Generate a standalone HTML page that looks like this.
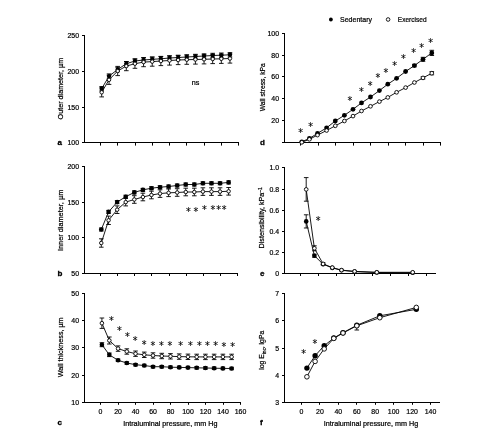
<!DOCTYPE html>
<html><head><meta charset="utf-8"><title>Figure</title>
<style>
html,body{margin:0;padding:0;background:#fff;}
body{width:497px;height:443px;overflow:hidden;}
svg{display:block;font-family:"Liberation Sans", sans-serif;fill:#111;}
svg text{fill:#000;stroke:#000;stroke-width:0.22px;}
svg text.b{stroke-width:0.3px;}
svg text.st{font-family:"DejaVu Sans", sans-serif;stroke-width:0.1px;}
</style></head><body>
<svg width="497" height="443" viewBox="0 0 497 443" font-family='"Liberation Sans", sans-serif'>
<rect width="497" height="443" fill="#fff"/>
<line x1="84.50" y1="35.00" x2="84.50" y2="143.00" stroke="#000" stroke-width="1"/>
<line x1="84.00" y1="142.50" x2="239.00" y2="142.50" stroke="#000" stroke-width="1"/>
<line x1="82.00" y1="35.50" x2="84.50" y2="35.50" stroke="#000" stroke-width="1"/>
<text transform="translate(79.10 38.00) scale(0.88 1)" text-anchor="end" font-size="7.9">250</text>
<line x1="82.00" y1="71.50" x2="84.50" y2="71.50" stroke="#000" stroke-width="1"/>
<text transform="translate(79.10 74.00) scale(0.88 1)" text-anchor="end" font-size="7.9">200</text>
<line x1="82.00" y1="107.50" x2="84.50" y2="107.50" stroke="#000" stroke-width="1"/>
<text transform="translate(79.10 110.00) scale(0.88 1)" text-anchor="end" font-size="7.9">150</text>
<line x1="82.00" y1="142.50" x2="84.50" y2="142.50" stroke="#000" stroke-width="1"/>
<text transform="translate(79.10 145.00) scale(0.88 1)" text-anchor="end" font-size="7.9">100</text>
<line x1="100.50" y1="142.50" x2="100.50" y2="145.60" stroke="#000" stroke-width="1"/>
<line x1="117.50" y1="142.50" x2="117.50" y2="145.60" stroke="#000" stroke-width="1"/>
<line x1="135.50" y1="142.50" x2="135.50" y2="145.60" stroke="#000" stroke-width="1"/>
<line x1="152.50" y1="142.50" x2="152.50" y2="145.60" stroke="#000" stroke-width="1"/>
<line x1="169.50" y1="142.50" x2="169.50" y2="145.60" stroke="#000" stroke-width="1"/>
<line x1="186.50" y1="142.50" x2="186.50" y2="145.60" stroke="#000" stroke-width="1"/>
<line x1="204.50" y1="142.50" x2="204.50" y2="145.60" stroke="#000" stroke-width="1"/>
<line x1="221.50" y1="142.50" x2="221.50" y2="145.60" stroke="#000" stroke-width="1"/>
<line x1="238.50" y1="142.50" x2="238.50" y2="145.60" stroke="#000" stroke-width="1"/>
<text transform="translate(63.00 88.60) rotate(-90)" text-anchor="middle" font-size="7.2">Outer diameter, µm</text>
<text transform="translate(57.60 144.80)" text-anchor="start" font-size="8.0" font-weight="bold" class="b">a</text>
<polyline points="101.70,88.70 109.04,76.10 117.68,69.50 126.31,63.70 134.95,61.00 143.59,60.00 152.22,59.30 160.86,58.80 169.50,58.00 178.14,57.50 186.77,57.00 195.41,56.50 204.05,56.00 212.69,55.50 221.32,55.20 229.96,54.80" fill="none" stroke="#000" stroke-width="0.9"/>
<line x1="101.70" y1="86.50" x2="101.70" y2="90.90" stroke="#000" stroke-width="0.9"/>
<line x1="99.40" y1="86.50" x2="104.00" y2="86.50" stroke="#000" stroke-width="0.9"/>
<line x1="99.40" y1="90.90" x2="104.00" y2="90.90" stroke="#000" stroke-width="0.9"/>
<line x1="109.04" y1="73.90" x2="109.04" y2="78.30" stroke="#000" stroke-width="0.9"/>
<line x1="106.74" y1="73.90" x2="111.34" y2="73.90" stroke="#000" stroke-width="0.9"/>
<line x1="106.74" y1="78.30" x2="111.34" y2="78.30" stroke="#000" stroke-width="0.9"/>
<line x1="117.68" y1="67.30" x2="117.68" y2="71.70" stroke="#000" stroke-width="0.9"/>
<line x1="115.38" y1="67.30" x2="119.98" y2="67.30" stroke="#000" stroke-width="0.9"/>
<line x1="115.38" y1="71.70" x2="119.98" y2="71.70" stroke="#000" stroke-width="0.9"/>
<line x1="126.31" y1="61.50" x2="126.31" y2="65.90" stroke="#000" stroke-width="0.9"/>
<line x1="124.01" y1="61.50" x2="128.61" y2="61.50" stroke="#000" stroke-width="0.9"/>
<line x1="124.01" y1="65.90" x2="128.61" y2="65.90" stroke="#000" stroke-width="0.9"/>
<line x1="134.95" y1="58.80" x2="134.95" y2="63.20" stroke="#000" stroke-width="0.9"/>
<line x1="132.65" y1="58.80" x2="137.25" y2="58.80" stroke="#000" stroke-width="0.9"/>
<line x1="132.65" y1="63.20" x2="137.25" y2="63.20" stroke="#000" stroke-width="0.9"/>
<line x1="143.59" y1="57.80" x2="143.59" y2="62.20" stroke="#000" stroke-width="0.9"/>
<line x1="141.29" y1="57.80" x2="145.89" y2="57.80" stroke="#000" stroke-width="0.9"/>
<line x1="141.29" y1="62.20" x2="145.89" y2="62.20" stroke="#000" stroke-width="0.9"/>
<line x1="152.22" y1="57.10" x2="152.22" y2="61.50" stroke="#000" stroke-width="0.9"/>
<line x1="149.92" y1="57.10" x2="154.53" y2="57.10" stroke="#000" stroke-width="0.9"/>
<line x1="149.92" y1="61.50" x2="154.53" y2="61.50" stroke="#000" stroke-width="0.9"/>
<line x1="160.86" y1="56.60" x2="160.86" y2="61.00" stroke="#000" stroke-width="0.9"/>
<line x1="158.56" y1="56.60" x2="163.16" y2="56.60" stroke="#000" stroke-width="0.9"/>
<line x1="158.56" y1="61.00" x2="163.16" y2="61.00" stroke="#000" stroke-width="0.9"/>
<line x1="169.50" y1="55.80" x2="169.50" y2="60.20" stroke="#000" stroke-width="0.9"/>
<line x1="167.20" y1="55.80" x2="171.80" y2="55.80" stroke="#000" stroke-width="0.9"/>
<line x1="167.20" y1="60.20" x2="171.80" y2="60.20" stroke="#000" stroke-width="0.9"/>
<line x1="178.14" y1="55.30" x2="178.14" y2="59.70" stroke="#000" stroke-width="0.9"/>
<line x1="175.84" y1="55.30" x2="180.44" y2="55.30" stroke="#000" stroke-width="0.9"/>
<line x1="175.84" y1="59.70" x2="180.44" y2="59.70" stroke="#000" stroke-width="0.9"/>
<line x1="186.77" y1="54.80" x2="186.77" y2="59.20" stroke="#000" stroke-width="0.9"/>
<line x1="184.47" y1="54.80" x2="189.07" y2="54.80" stroke="#000" stroke-width="0.9"/>
<line x1="184.47" y1="59.20" x2="189.07" y2="59.20" stroke="#000" stroke-width="0.9"/>
<line x1="195.41" y1="54.30" x2="195.41" y2="58.70" stroke="#000" stroke-width="0.9"/>
<line x1="193.11" y1="54.30" x2="197.71" y2="54.30" stroke="#000" stroke-width="0.9"/>
<line x1="193.11" y1="58.70" x2="197.71" y2="58.70" stroke="#000" stroke-width="0.9"/>
<line x1="204.05" y1="53.80" x2="204.05" y2="58.20" stroke="#000" stroke-width="0.9"/>
<line x1="201.75" y1="53.80" x2="206.35" y2="53.80" stroke="#000" stroke-width="0.9"/>
<line x1="201.75" y1="58.20" x2="206.35" y2="58.20" stroke="#000" stroke-width="0.9"/>
<line x1="212.69" y1="53.30" x2="212.69" y2="57.70" stroke="#000" stroke-width="0.9"/>
<line x1="210.39" y1="53.30" x2="214.99" y2="53.30" stroke="#000" stroke-width="0.9"/>
<line x1="210.39" y1="57.70" x2="214.99" y2="57.70" stroke="#000" stroke-width="0.9"/>
<line x1="221.32" y1="53.00" x2="221.32" y2="57.40" stroke="#000" stroke-width="0.9"/>
<line x1="219.02" y1="53.00" x2="223.62" y2="53.00" stroke="#000" stroke-width="0.9"/>
<line x1="219.02" y1="57.40" x2="223.62" y2="57.40" stroke="#000" stroke-width="0.9"/>
<line x1="229.96" y1="52.60" x2="229.96" y2="57.00" stroke="#000" stroke-width="0.9"/>
<line x1="227.66" y1="52.60" x2="232.26" y2="52.60" stroke="#000" stroke-width="0.9"/>
<line x1="227.66" y1="57.00" x2="232.26" y2="57.00" stroke="#000" stroke-width="0.9"/>
<circle cx="101.70" cy="88.70" r="2.20" fill="#000"/>
<circle cx="109.04" cy="76.10" r="2.20" fill="#000"/>
<circle cx="117.68" cy="69.50" r="2.20" fill="#000"/>
<circle cx="126.31" cy="63.70" r="2.20" fill="#000"/>
<circle cx="134.95" cy="61.00" r="2.20" fill="#000"/>
<circle cx="143.59" cy="60.00" r="2.20" fill="#000"/>
<circle cx="152.22" cy="59.30" r="2.20" fill="#000"/>
<circle cx="160.86" cy="58.80" r="2.20" fill="#000"/>
<circle cx="169.50" cy="58.00" r="2.20" fill="#000"/>
<circle cx="178.14" cy="57.50" r="2.20" fill="#000"/>
<circle cx="186.77" cy="57.00" r="2.20" fill="#000"/>
<circle cx="195.41" cy="56.50" r="2.20" fill="#000"/>
<circle cx="204.05" cy="56.00" r="2.20" fill="#000"/>
<circle cx="212.69" cy="55.50" r="2.20" fill="#000"/>
<circle cx="221.32" cy="55.20" r="2.20" fill="#000"/>
<circle cx="229.96" cy="54.80" r="2.20" fill="#000"/>
<polyline points="101.70,92.30 109.04,79.80 117.68,71.00 126.31,66.10 134.95,63.70 143.59,62.10 152.22,61.60 160.86,61.00 169.50,60.50 178.14,60.00 186.77,59.70 195.41,59.50 204.05,59.30 212.69,59.00 221.32,58.80 229.96,58.50" fill="none" stroke="#000" stroke-width="0.9"/>
<line x1="101.70" y1="87.70" x2="101.70" y2="96.90" stroke="#000" stroke-width="0.9"/>
<line x1="99.40" y1="87.70" x2="104.00" y2="87.70" stroke="#000" stroke-width="0.9"/>
<line x1="99.40" y1="96.90" x2="104.00" y2="96.90" stroke="#000" stroke-width="0.9"/>
<line x1="109.04" y1="75.20" x2="109.04" y2="84.40" stroke="#000" stroke-width="0.9"/>
<line x1="106.74" y1="75.20" x2="111.34" y2="75.20" stroke="#000" stroke-width="0.9"/>
<line x1="106.74" y1="84.40" x2="111.34" y2="84.40" stroke="#000" stroke-width="0.9"/>
<line x1="117.68" y1="66.40" x2="117.68" y2="75.60" stroke="#000" stroke-width="0.9"/>
<line x1="115.38" y1="66.40" x2="119.98" y2="66.40" stroke="#000" stroke-width="0.9"/>
<line x1="115.38" y1="75.60" x2="119.98" y2="75.60" stroke="#000" stroke-width="0.9"/>
<line x1="126.31" y1="61.50" x2="126.31" y2="70.70" stroke="#000" stroke-width="0.9"/>
<line x1="124.01" y1="61.50" x2="128.61" y2="61.50" stroke="#000" stroke-width="0.9"/>
<line x1="124.01" y1="70.70" x2="128.61" y2="70.70" stroke="#000" stroke-width="0.9"/>
<line x1="134.95" y1="59.10" x2="134.95" y2="68.30" stroke="#000" stroke-width="0.9"/>
<line x1="132.65" y1="59.10" x2="137.25" y2="59.10" stroke="#000" stroke-width="0.9"/>
<line x1="132.65" y1="68.30" x2="137.25" y2="68.30" stroke="#000" stroke-width="0.9"/>
<line x1="143.59" y1="57.50" x2="143.59" y2="66.70" stroke="#000" stroke-width="0.9"/>
<line x1="141.29" y1="57.50" x2="145.89" y2="57.50" stroke="#000" stroke-width="0.9"/>
<line x1="141.29" y1="66.70" x2="145.89" y2="66.70" stroke="#000" stroke-width="0.9"/>
<line x1="152.22" y1="57.00" x2="152.22" y2="66.20" stroke="#000" stroke-width="0.9"/>
<line x1="149.92" y1="57.00" x2="154.53" y2="57.00" stroke="#000" stroke-width="0.9"/>
<line x1="149.92" y1="66.20" x2="154.53" y2="66.20" stroke="#000" stroke-width="0.9"/>
<line x1="160.86" y1="56.40" x2="160.86" y2="65.60" stroke="#000" stroke-width="0.9"/>
<line x1="158.56" y1="56.40" x2="163.16" y2="56.40" stroke="#000" stroke-width="0.9"/>
<line x1="158.56" y1="65.60" x2="163.16" y2="65.60" stroke="#000" stroke-width="0.9"/>
<line x1="169.50" y1="55.90" x2="169.50" y2="65.10" stroke="#000" stroke-width="0.9"/>
<line x1="167.20" y1="55.90" x2="171.80" y2="55.90" stroke="#000" stroke-width="0.9"/>
<line x1="167.20" y1="65.10" x2="171.80" y2="65.10" stroke="#000" stroke-width="0.9"/>
<line x1="178.14" y1="55.40" x2="178.14" y2="64.60" stroke="#000" stroke-width="0.9"/>
<line x1="175.84" y1="55.40" x2="180.44" y2="55.40" stroke="#000" stroke-width="0.9"/>
<line x1="175.84" y1="64.60" x2="180.44" y2="64.60" stroke="#000" stroke-width="0.9"/>
<line x1="186.77" y1="55.10" x2="186.77" y2="64.30" stroke="#000" stroke-width="0.9"/>
<line x1="184.47" y1="55.10" x2="189.07" y2="55.10" stroke="#000" stroke-width="0.9"/>
<line x1="184.47" y1="64.30" x2="189.07" y2="64.30" stroke="#000" stroke-width="0.9"/>
<line x1="195.41" y1="54.90" x2="195.41" y2="64.10" stroke="#000" stroke-width="0.9"/>
<line x1="193.11" y1="54.90" x2="197.71" y2="54.90" stroke="#000" stroke-width="0.9"/>
<line x1="193.11" y1="64.10" x2="197.71" y2="64.10" stroke="#000" stroke-width="0.9"/>
<line x1="204.05" y1="54.70" x2="204.05" y2="63.90" stroke="#000" stroke-width="0.9"/>
<line x1="201.75" y1="54.70" x2="206.35" y2="54.70" stroke="#000" stroke-width="0.9"/>
<line x1="201.75" y1="63.90" x2="206.35" y2="63.90" stroke="#000" stroke-width="0.9"/>
<line x1="212.69" y1="54.40" x2="212.69" y2="63.60" stroke="#000" stroke-width="0.9"/>
<line x1="210.39" y1="54.40" x2="214.99" y2="54.40" stroke="#000" stroke-width="0.9"/>
<line x1="210.39" y1="63.60" x2="214.99" y2="63.60" stroke="#000" stroke-width="0.9"/>
<line x1="221.32" y1="54.20" x2="221.32" y2="63.40" stroke="#000" stroke-width="0.9"/>
<line x1="219.02" y1="54.20" x2="223.62" y2="54.20" stroke="#000" stroke-width="0.9"/>
<line x1="219.02" y1="63.40" x2="223.62" y2="63.40" stroke="#000" stroke-width="0.9"/>
<line x1="229.96" y1="53.90" x2="229.96" y2="63.10" stroke="#000" stroke-width="0.9"/>
<line x1="227.66" y1="53.90" x2="232.26" y2="53.90" stroke="#000" stroke-width="0.9"/>
<line x1="227.66" y1="63.10" x2="232.26" y2="63.10" stroke="#000" stroke-width="0.9"/>
<circle cx="101.70" cy="92.30" r="1.75" fill="#fff" stroke="#000" stroke-width="0.9"/>
<circle cx="109.04" cy="79.80" r="1.75" fill="#fff" stroke="#000" stroke-width="0.9"/>
<circle cx="117.68" cy="71.00" r="1.75" fill="#fff" stroke="#000" stroke-width="0.9"/>
<circle cx="126.31" cy="66.10" r="1.75" fill="#fff" stroke="#000" stroke-width="0.9"/>
<circle cx="134.95" cy="63.70" r="1.75" fill="#fff" stroke="#000" stroke-width="0.9"/>
<circle cx="143.59" cy="62.10" r="1.75" fill="#fff" stroke="#000" stroke-width="0.9"/>
<circle cx="152.22" cy="61.60" r="1.75" fill="#fff" stroke="#000" stroke-width="0.9"/>
<circle cx="160.86" cy="61.00" r="1.75" fill="#fff" stroke="#000" stroke-width="0.9"/>
<circle cx="169.50" cy="60.50" r="1.75" fill="#fff" stroke="#000" stroke-width="0.9"/>
<circle cx="178.14" cy="60.00" r="1.75" fill="#fff" stroke="#000" stroke-width="0.9"/>
<circle cx="186.77" cy="59.70" r="1.75" fill="#fff" stroke="#000" stroke-width="0.9"/>
<circle cx="195.41" cy="59.50" r="1.75" fill="#fff" stroke="#000" stroke-width="0.9"/>
<circle cx="204.05" cy="59.30" r="1.75" fill="#fff" stroke="#000" stroke-width="0.9"/>
<circle cx="212.69" cy="59.00" r="1.75" fill="#fff" stroke="#000" stroke-width="0.9"/>
<circle cx="221.32" cy="58.80" r="1.75" fill="#fff" stroke="#000" stroke-width="0.9"/>
<circle cx="229.96" cy="58.50" r="1.75" fill="#fff" stroke="#000" stroke-width="0.9"/>
<text transform="translate(195.60 84.60)" text-anchor="middle" font-size="7.2">ns</text>
<line x1="84.50" y1="166.00" x2="84.50" y2="274.00" stroke="#000" stroke-width="1"/>
<line x1="84.00" y1="273.50" x2="238.00" y2="273.50" stroke="#000" stroke-width="1"/>
<line x1="82.00" y1="166.50" x2="84.50" y2="166.50" stroke="#000" stroke-width="1"/>
<text transform="translate(79.10 169.00) scale(0.88 1)" text-anchor="end" font-size="7.9">200</text>
<line x1="82.00" y1="202.50" x2="84.50" y2="202.50" stroke="#000" stroke-width="1"/>
<text transform="translate(79.10 205.00) scale(0.88 1)" text-anchor="end" font-size="7.9">150</text>
<line x1="82.00" y1="237.50" x2="84.50" y2="237.50" stroke="#000" stroke-width="1"/>
<text transform="translate(79.10 240.00) scale(0.88 1)" text-anchor="end" font-size="7.9">100</text>
<line x1="82.00" y1="273.50" x2="84.50" y2="273.50" stroke="#000" stroke-width="1"/>
<text transform="translate(79.10 276.00) scale(0.88 1)" text-anchor="end" font-size="7.9">50</text>
<line x1="100.50" y1="273.50" x2="100.50" y2="276.00" stroke="#000" stroke-width="1"/>
<line x1="117.50" y1="273.50" x2="117.50" y2="276.00" stroke="#000" stroke-width="1"/>
<line x1="134.50" y1="273.50" x2="134.50" y2="276.00" stroke="#000" stroke-width="1"/>
<line x1="151.50" y1="273.50" x2="151.50" y2="276.00" stroke="#000" stroke-width="1"/>
<line x1="169.50" y1="273.50" x2="169.50" y2="276.00" stroke="#000" stroke-width="1"/>
<line x1="186.50" y1="273.50" x2="186.50" y2="276.00" stroke="#000" stroke-width="1"/>
<line x1="203.50" y1="273.50" x2="203.50" y2="276.00" stroke="#000" stroke-width="1"/>
<line x1="220.50" y1="273.50" x2="220.50" y2="276.00" stroke="#000" stroke-width="1"/>
<line x1="237.50" y1="273.50" x2="237.50" y2="276.00" stroke="#000" stroke-width="1"/>
<text transform="translate(63.00 220.40) rotate(-90) scale(1.02 1)" text-anchor="middle" font-size="7.2">Inner diameter, µm</text>
<text transform="translate(57.60 275.80)" text-anchor="start" font-size="8.0" font-weight="bold" class="b">b</text>
<polyline points="101.29,229.50 108.58,211.90 117.15,202.10 125.72,196.70 134.30,192.40 142.88,189.90 151.45,188.20 160.02,187.20 168.60,186.50 177.18,185.50 185.75,184.50 194.32,184.50 202.90,183.30 211.47,183.30 220.05,183.30 228.62,182.40" fill="none" stroke="#000" stroke-width="0.9"/>
<line x1="101.29" y1="228.00" x2="101.29" y2="231.00" stroke="#000" stroke-width="0.9"/>
<line x1="98.99" y1="228.00" x2="103.59" y2="228.00" stroke="#000" stroke-width="0.9"/>
<line x1="98.99" y1="231.00" x2="103.59" y2="231.00" stroke="#000" stroke-width="0.9"/>
<line x1="108.58" y1="210.40" x2="108.58" y2="213.40" stroke="#000" stroke-width="0.9"/>
<line x1="106.28" y1="210.40" x2="110.88" y2="210.40" stroke="#000" stroke-width="0.9"/>
<line x1="106.28" y1="213.40" x2="110.88" y2="213.40" stroke="#000" stroke-width="0.9"/>
<line x1="117.15" y1="200.60" x2="117.15" y2="203.60" stroke="#000" stroke-width="0.9"/>
<line x1="114.85" y1="200.60" x2="119.45" y2="200.60" stroke="#000" stroke-width="0.9"/>
<line x1="114.85" y1="203.60" x2="119.45" y2="203.60" stroke="#000" stroke-width="0.9"/>
<line x1="125.72" y1="195.20" x2="125.72" y2="198.20" stroke="#000" stroke-width="0.9"/>
<line x1="123.42" y1="195.20" x2="128.03" y2="195.20" stroke="#000" stroke-width="0.9"/>
<line x1="123.42" y1="198.20" x2="128.03" y2="198.20" stroke="#000" stroke-width="0.9"/>
<line x1="134.30" y1="190.90" x2="134.30" y2="193.90" stroke="#000" stroke-width="0.9"/>
<line x1="132.00" y1="190.90" x2="136.60" y2="190.90" stroke="#000" stroke-width="0.9"/>
<line x1="132.00" y1="193.90" x2="136.60" y2="193.90" stroke="#000" stroke-width="0.9"/>
<line x1="142.88" y1="188.40" x2="142.88" y2="191.40" stroke="#000" stroke-width="0.9"/>
<line x1="140.57" y1="188.40" x2="145.18" y2="188.40" stroke="#000" stroke-width="0.9"/>
<line x1="140.57" y1="191.40" x2="145.18" y2="191.40" stroke="#000" stroke-width="0.9"/>
<line x1="151.45" y1="186.70" x2="151.45" y2="189.70" stroke="#000" stroke-width="0.9"/>
<line x1="149.15" y1="186.70" x2="153.75" y2="186.70" stroke="#000" stroke-width="0.9"/>
<line x1="149.15" y1="189.70" x2="153.75" y2="189.70" stroke="#000" stroke-width="0.9"/>
<line x1="160.02" y1="185.70" x2="160.02" y2="188.70" stroke="#000" stroke-width="0.9"/>
<line x1="157.72" y1="185.70" x2="162.32" y2="185.70" stroke="#000" stroke-width="0.9"/>
<line x1="157.72" y1="188.70" x2="162.32" y2="188.70" stroke="#000" stroke-width="0.9"/>
<line x1="168.60" y1="185.00" x2="168.60" y2="188.00" stroke="#000" stroke-width="0.9"/>
<line x1="166.30" y1="185.00" x2="170.90" y2="185.00" stroke="#000" stroke-width="0.9"/>
<line x1="166.30" y1="188.00" x2="170.90" y2="188.00" stroke="#000" stroke-width="0.9"/>
<line x1="177.18" y1="184.00" x2="177.18" y2="187.00" stroke="#000" stroke-width="0.9"/>
<line x1="174.88" y1="184.00" x2="179.48" y2="184.00" stroke="#000" stroke-width="0.9"/>
<line x1="174.88" y1="187.00" x2="179.48" y2="187.00" stroke="#000" stroke-width="0.9"/>
<line x1="185.75" y1="183.00" x2="185.75" y2="186.00" stroke="#000" stroke-width="0.9"/>
<line x1="183.45" y1="183.00" x2="188.05" y2="183.00" stroke="#000" stroke-width="0.9"/>
<line x1="183.45" y1="186.00" x2="188.05" y2="186.00" stroke="#000" stroke-width="0.9"/>
<line x1="194.32" y1="183.00" x2="194.32" y2="186.00" stroke="#000" stroke-width="0.9"/>
<line x1="192.02" y1="183.00" x2="196.62" y2="183.00" stroke="#000" stroke-width="0.9"/>
<line x1="192.02" y1="186.00" x2="196.62" y2="186.00" stroke="#000" stroke-width="0.9"/>
<line x1="202.90" y1="181.80" x2="202.90" y2="184.80" stroke="#000" stroke-width="0.9"/>
<line x1="200.60" y1="181.80" x2="205.20" y2="181.80" stroke="#000" stroke-width="0.9"/>
<line x1="200.60" y1="184.80" x2="205.20" y2="184.80" stroke="#000" stroke-width="0.9"/>
<line x1="211.47" y1="181.80" x2="211.47" y2="184.80" stroke="#000" stroke-width="0.9"/>
<line x1="209.17" y1="181.80" x2="213.78" y2="181.80" stroke="#000" stroke-width="0.9"/>
<line x1="209.17" y1="184.80" x2="213.78" y2="184.80" stroke="#000" stroke-width="0.9"/>
<line x1="220.05" y1="181.80" x2="220.05" y2="184.80" stroke="#000" stroke-width="0.9"/>
<line x1="217.75" y1="181.80" x2="222.35" y2="181.80" stroke="#000" stroke-width="0.9"/>
<line x1="217.75" y1="184.80" x2="222.35" y2="184.80" stroke="#000" stroke-width="0.9"/>
<line x1="228.62" y1="180.90" x2="228.62" y2="183.90" stroke="#000" stroke-width="0.9"/>
<line x1="226.32" y1="180.90" x2="230.93" y2="180.90" stroke="#000" stroke-width="0.9"/>
<line x1="226.32" y1="183.90" x2="230.93" y2="183.90" stroke="#000" stroke-width="0.9"/>
<circle cx="101.29" cy="229.50" r="2.30" fill="#000"/>
<circle cx="108.58" cy="211.90" r="2.30" fill="#000"/>
<circle cx="117.15" cy="202.10" r="2.30" fill="#000"/>
<circle cx="125.72" cy="196.70" r="2.30" fill="#000"/>
<circle cx="134.30" cy="192.40" r="2.30" fill="#000"/>
<circle cx="142.88" cy="189.90" r="2.30" fill="#000"/>
<circle cx="151.45" cy="188.20" r="2.30" fill="#000"/>
<circle cx="160.02" cy="187.20" r="2.30" fill="#000"/>
<circle cx="168.60" cy="186.50" r="2.30" fill="#000"/>
<circle cx="177.18" cy="185.50" r="2.30" fill="#000"/>
<circle cx="185.75" cy="184.50" r="2.30" fill="#000"/>
<circle cx="194.32" cy="184.50" r="2.30" fill="#000"/>
<circle cx="202.90" cy="183.30" r="2.30" fill="#000"/>
<circle cx="211.47" cy="183.30" r="2.30" fill="#000"/>
<circle cx="220.05" cy="183.30" r="2.30" fill="#000"/>
<circle cx="228.62" cy="182.40" r="2.30" fill="#000"/>
<polyline points="101.29,243.00 108.58,220.30 117.15,209.70 125.72,202.10 134.30,199.50 142.88,197.00 151.45,195.00 160.02,193.60 168.60,192.80 177.18,192.50 185.75,192.00 194.32,192.00 202.90,191.60 211.47,191.60 220.05,191.60 228.62,191.30" fill="none" stroke="#000" stroke-width="0.9"/>
<line x1="101.29" y1="238.80" x2="101.29" y2="247.20" stroke="#000" stroke-width="0.9"/>
<line x1="98.99" y1="238.80" x2="103.59" y2="238.80" stroke="#000" stroke-width="0.9"/>
<line x1="98.99" y1="247.20" x2="103.59" y2="247.20" stroke="#000" stroke-width="0.9"/>
<line x1="108.58" y1="216.10" x2="108.58" y2="224.50" stroke="#000" stroke-width="0.9"/>
<line x1="106.28" y1="216.10" x2="110.88" y2="216.10" stroke="#000" stroke-width="0.9"/>
<line x1="106.28" y1="224.50" x2="110.88" y2="224.50" stroke="#000" stroke-width="0.9"/>
<line x1="117.15" y1="205.90" x2="117.15" y2="213.50" stroke="#000" stroke-width="0.9"/>
<line x1="114.85" y1="205.90" x2="119.45" y2="205.90" stroke="#000" stroke-width="0.9"/>
<line x1="114.85" y1="213.50" x2="119.45" y2="213.50" stroke="#000" stroke-width="0.9"/>
<line x1="125.72" y1="198.30" x2="125.72" y2="205.90" stroke="#000" stroke-width="0.9"/>
<line x1="123.42" y1="198.30" x2="128.03" y2="198.30" stroke="#000" stroke-width="0.9"/>
<line x1="123.42" y1="205.90" x2="128.03" y2="205.90" stroke="#000" stroke-width="0.9"/>
<line x1="134.30" y1="195.70" x2="134.30" y2="203.30" stroke="#000" stroke-width="0.9"/>
<line x1="132.00" y1="195.70" x2="136.60" y2="195.70" stroke="#000" stroke-width="0.9"/>
<line x1="132.00" y1="203.30" x2="136.60" y2="203.30" stroke="#000" stroke-width="0.9"/>
<line x1="142.88" y1="193.20" x2="142.88" y2="200.80" stroke="#000" stroke-width="0.9"/>
<line x1="140.57" y1="193.20" x2="145.18" y2="193.20" stroke="#000" stroke-width="0.9"/>
<line x1="140.57" y1="200.80" x2="145.18" y2="200.80" stroke="#000" stroke-width="0.9"/>
<line x1="151.45" y1="191.20" x2="151.45" y2="198.80" stroke="#000" stroke-width="0.9"/>
<line x1="149.15" y1="191.20" x2="153.75" y2="191.20" stroke="#000" stroke-width="0.9"/>
<line x1="149.15" y1="198.80" x2="153.75" y2="198.80" stroke="#000" stroke-width="0.9"/>
<line x1="160.02" y1="189.80" x2="160.02" y2="197.40" stroke="#000" stroke-width="0.9"/>
<line x1="157.72" y1="189.80" x2="162.32" y2="189.80" stroke="#000" stroke-width="0.9"/>
<line x1="157.72" y1="197.40" x2="162.32" y2="197.40" stroke="#000" stroke-width="0.9"/>
<line x1="168.60" y1="189.00" x2="168.60" y2="196.60" stroke="#000" stroke-width="0.9"/>
<line x1="166.30" y1="189.00" x2="170.90" y2="189.00" stroke="#000" stroke-width="0.9"/>
<line x1="166.30" y1="196.60" x2="170.90" y2="196.60" stroke="#000" stroke-width="0.9"/>
<line x1="177.18" y1="188.70" x2="177.18" y2="196.30" stroke="#000" stroke-width="0.9"/>
<line x1="174.88" y1="188.70" x2="179.48" y2="188.70" stroke="#000" stroke-width="0.9"/>
<line x1="174.88" y1="196.30" x2="179.48" y2="196.30" stroke="#000" stroke-width="0.9"/>
<line x1="185.75" y1="188.20" x2="185.75" y2="195.80" stroke="#000" stroke-width="0.9"/>
<line x1="183.45" y1="188.20" x2="188.05" y2="188.20" stroke="#000" stroke-width="0.9"/>
<line x1="183.45" y1="195.80" x2="188.05" y2="195.80" stroke="#000" stroke-width="0.9"/>
<line x1="194.32" y1="188.20" x2="194.32" y2="195.80" stroke="#000" stroke-width="0.9"/>
<line x1="192.02" y1="188.20" x2="196.62" y2="188.20" stroke="#000" stroke-width="0.9"/>
<line x1="192.02" y1="195.80" x2="196.62" y2="195.80" stroke="#000" stroke-width="0.9"/>
<line x1="202.90" y1="187.80" x2="202.90" y2="195.40" stroke="#000" stroke-width="0.9"/>
<line x1="200.60" y1="187.80" x2="205.20" y2="187.80" stroke="#000" stroke-width="0.9"/>
<line x1="200.60" y1="195.40" x2="205.20" y2="195.40" stroke="#000" stroke-width="0.9"/>
<line x1="211.47" y1="187.80" x2="211.47" y2="195.40" stroke="#000" stroke-width="0.9"/>
<line x1="209.17" y1="187.80" x2="213.78" y2="187.80" stroke="#000" stroke-width="0.9"/>
<line x1="209.17" y1="195.40" x2="213.78" y2="195.40" stroke="#000" stroke-width="0.9"/>
<line x1="220.05" y1="187.80" x2="220.05" y2="195.40" stroke="#000" stroke-width="0.9"/>
<line x1="217.75" y1="187.80" x2="222.35" y2="187.80" stroke="#000" stroke-width="0.9"/>
<line x1="217.75" y1="195.40" x2="222.35" y2="195.40" stroke="#000" stroke-width="0.9"/>
<line x1="228.62" y1="187.50" x2="228.62" y2="195.10" stroke="#000" stroke-width="0.9"/>
<line x1="226.32" y1="187.50" x2="230.93" y2="187.50" stroke="#000" stroke-width="0.9"/>
<line x1="226.32" y1="195.10" x2="230.93" y2="195.10" stroke="#000" stroke-width="0.9"/>
<circle cx="101.29" cy="243.00" r="1.75" fill="#fff" stroke="#000" stroke-width="0.9"/>
<circle cx="108.58" cy="220.30" r="1.75" fill="#fff" stroke="#000" stroke-width="0.9"/>
<circle cx="117.15" cy="209.70" r="1.75" fill="#fff" stroke="#000" stroke-width="0.9"/>
<circle cx="125.72" cy="202.10" r="1.75" fill="#fff" stroke="#000" stroke-width="0.9"/>
<circle cx="134.30" cy="199.50" r="1.75" fill="#fff" stroke="#000" stroke-width="0.9"/>
<circle cx="142.88" cy="197.00" r="1.75" fill="#fff" stroke="#000" stroke-width="0.9"/>
<circle cx="151.45" cy="195.00" r="1.75" fill="#fff" stroke="#000" stroke-width="0.9"/>
<circle cx="160.02" cy="193.60" r="1.75" fill="#fff" stroke="#000" stroke-width="0.9"/>
<circle cx="168.60" cy="192.80" r="1.75" fill="#fff" stroke="#000" stroke-width="0.9"/>
<circle cx="177.18" cy="192.50" r="1.75" fill="#fff" stroke="#000" stroke-width="0.9"/>
<circle cx="185.75" cy="192.00" r="1.75" fill="#fff" stroke="#000" stroke-width="0.9"/>
<circle cx="194.32" cy="192.00" r="1.75" fill="#fff" stroke="#000" stroke-width="0.9"/>
<circle cx="202.90" cy="191.60" r="1.75" fill="#fff" stroke="#000" stroke-width="0.9"/>
<circle cx="211.47" cy="191.60" r="1.75" fill="#fff" stroke="#000" stroke-width="0.9"/>
<circle cx="220.05" cy="191.60" r="1.75" fill="#fff" stroke="#000" stroke-width="0.9"/>
<circle cx="228.62" cy="191.30" r="1.75" fill="#fff" stroke="#000" stroke-width="0.9"/>
<text transform="translate(188.30 215.16)" text-anchor="middle" font-size="9.6" class="st">*</text>
<text transform="translate(196.00 214.76)" text-anchor="middle" font-size="9.6" class="st">*</text>
<text transform="translate(204.40 213.16)" text-anchor="middle" font-size="9.6" class="st">*</text>
<text transform="translate(212.90 213.16)" text-anchor="middle" font-size="9.6" class="st">*</text>
<text transform="translate(218.60 213.16)" text-anchor="middle" font-size="9.6" class="st">*</text>
<text transform="translate(224.20 213.16)" text-anchor="middle" font-size="9.6" class="st">*</text>
<line x1="84.50" y1="293.00" x2="84.50" y2="403.00" stroke="#000" stroke-width="1"/>
<line x1="84.00" y1="402.50" x2="241.00" y2="402.50" stroke="#000" stroke-width="1"/>
<line x1="82.00" y1="293.50" x2="84.50" y2="293.50" stroke="#000" stroke-width="1"/>
<text transform="translate(79.10 296.00) scale(0.88 1)" text-anchor="end" font-size="7.9">50</text>
<line x1="82.00" y1="320.50" x2="84.50" y2="320.50" stroke="#000" stroke-width="1"/>
<text transform="translate(79.10 323.00) scale(0.88 1)" text-anchor="end" font-size="7.9">40</text>
<line x1="82.00" y1="347.50" x2="84.50" y2="347.50" stroke="#000" stroke-width="1"/>
<text transform="translate(79.10 350.00) scale(0.88 1)" text-anchor="end" font-size="7.9">30</text>
<line x1="82.00" y1="375.50" x2="84.50" y2="375.50" stroke="#000" stroke-width="1"/>
<text transform="translate(79.10 378.00) scale(0.88 1)" text-anchor="end" font-size="7.9">20</text>
<line x1="82.00" y1="402.50" x2="84.50" y2="402.50" stroke="#000" stroke-width="1"/>
<text transform="translate(79.10 405.00) scale(0.88 1)" text-anchor="end" font-size="7.9">10</text>
<line x1="100.50" y1="402.50" x2="100.50" y2="404.80" stroke="#000" stroke-width="1"/>
<text transform="translate(100.50 414.30) scale(0.88 1)" text-anchor="middle" font-size="7.9">0</text>
<line x1="118.50" y1="402.50" x2="118.50" y2="404.80" stroke="#000" stroke-width="1"/>
<text transform="translate(118.00 414.30) scale(0.88 1)" text-anchor="middle" font-size="7.9">20</text>
<line x1="135.50" y1="402.50" x2="135.50" y2="404.80" stroke="#000" stroke-width="1"/>
<text transform="translate(135.50 414.30) scale(0.88 1)" text-anchor="middle" font-size="7.9">40</text>
<line x1="153.50" y1="402.50" x2="153.50" y2="404.80" stroke="#000" stroke-width="1"/>
<text transform="translate(153.00 414.30) scale(0.88 1)" text-anchor="middle" font-size="7.9">60</text>
<line x1="170.50" y1="402.50" x2="170.50" y2="404.80" stroke="#000" stroke-width="1"/>
<text transform="translate(170.50 414.30) scale(0.88 1)" text-anchor="middle" font-size="7.9">80</text>
<line x1="188.50" y1="402.50" x2="188.50" y2="404.80" stroke="#000" stroke-width="1"/>
<text transform="translate(188.00 414.30) scale(0.88 1)" text-anchor="middle" font-size="7.9">100</text>
<line x1="205.50" y1="402.50" x2="205.50" y2="404.80" stroke="#000" stroke-width="1"/>
<text transform="translate(205.50 414.30) scale(0.88 1)" text-anchor="middle" font-size="7.9">120</text>
<line x1="223.50" y1="402.50" x2="223.50" y2="404.80" stroke="#000" stroke-width="1"/>
<text transform="translate(223.00 414.30) scale(0.88 1)" text-anchor="middle" font-size="7.9">140</text>
<line x1="240.50" y1="402.50" x2="240.50" y2="404.80" stroke="#000" stroke-width="1"/>
<text transform="translate(240.50 414.30) scale(0.88 1)" text-anchor="middle" font-size="7.9">160</text>
<text transform="translate(63.40 347.30) rotate(-90)" text-anchor="middle" font-size="7.2">Wall thickness, µm</text>
<text transform="translate(57.60 425.10)" text-anchor="start" font-size="8.0" font-weight="bold" class="b">c</text>
<text transform="translate(170.30 426.10)" text-anchor="middle" font-size="7.2">Intraluminal pressure, mm Hg</text>
<polyline points="101.91,344.70 109.33,354.80 118.07,360.30 126.80,363.00 135.54,364.70 144.27,365.50 153.01,366.70 161.75,366.70 170.48,367.20 179.21,367.40 187.95,367.60 196.69,367.80 205.42,368.00 214.15,368.20 222.89,368.40 231.62,368.50" fill="none" stroke="#000" stroke-width="0.9"/>
<line x1="101.91" y1="342.70" x2="101.91" y2="346.70" stroke="#000" stroke-width="0.9"/>
<line x1="99.61" y1="342.70" x2="104.21" y2="342.70" stroke="#000" stroke-width="0.9"/>
<line x1="99.61" y1="346.70" x2="104.21" y2="346.70" stroke="#000" stroke-width="0.9"/>
<line x1="109.33" y1="353.00" x2="109.33" y2="356.60" stroke="#000" stroke-width="0.9"/>
<line x1="107.03" y1="353.00" x2="111.63" y2="353.00" stroke="#000" stroke-width="0.9"/>
<line x1="107.03" y1="356.60" x2="111.63" y2="356.60" stroke="#000" stroke-width="0.9"/>
<line x1="118.07" y1="359.10" x2="118.07" y2="361.50" stroke="#000" stroke-width="0.9"/>
<line x1="115.77" y1="359.10" x2="120.37" y2="359.10" stroke="#000" stroke-width="0.9"/>
<line x1="115.77" y1="361.50" x2="120.37" y2="361.50" stroke="#000" stroke-width="0.9"/>
<line x1="126.80" y1="361.80" x2="126.80" y2="364.20" stroke="#000" stroke-width="0.9"/>
<line x1="124.50" y1="361.80" x2="129.10" y2="361.80" stroke="#000" stroke-width="0.9"/>
<line x1="124.50" y1="364.20" x2="129.10" y2="364.20" stroke="#000" stroke-width="0.9"/>
<line x1="135.54" y1="363.50" x2="135.54" y2="365.90" stroke="#000" stroke-width="0.9"/>
<line x1="133.24" y1="363.50" x2="137.84" y2="363.50" stroke="#000" stroke-width="0.9"/>
<line x1="133.24" y1="365.90" x2="137.84" y2="365.90" stroke="#000" stroke-width="0.9"/>
<line x1="144.27" y1="364.30" x2="144.27" y2="366.70" stroke="#000" stroke-width="0.9"/>
<line x1="141.97" y1="364.30" x2="146.57" y2="364.30" stroke="#000" stroke-width="0.9"/>
<line x1="141.97" y1="366.70" x2="146.57" y2="366.70" stroke="#000" stroke-width="0.9"/>
<line x1="153.01" y1="365.50" x2="153.01" y2="367.90" stroke="#000" stroke-width="0.9"/>
<line x1="150.71" y1="365.50" x2="155.31" y2="365.50" stroke="#000" stroke-width="0.9"/>
<line x1="150.71" y1="367.90" x2="155.31" y2="367.90" stroke="#000" stroke-width="0.9"/>
<line x1="161.75" y1="365.50" x2="161.75" y2="367.90" stroke="#000" stroke-width="0.9"/>
<line x1="159.44" y1="365.50" x2="164.05" y2="365.50" stroke="#000" stroke-width="0.9"/>
<line x1="159.44" y1="367.90" x2="164.05" y2="367.90" stroke="#000" stroke-width="0.9"/>
<line x1="170.48" y1="366.00" x2="170.48" y2="368.40" stroke="#000" stroke-width="0.9"/>
<line x1="168.18" y1="366.00" x2="172.78" y2="366.00" stroke="#000" stroke-width="0.9"/>
<line x1="168.18" y1="368.40" x2="172.78" y2="368.40" stroke="#000" stroke-width="0.9"/>
<line x1="179.21" y1="366.20" x2="179.21" y2="368.60" stroke="#000" stroke-width="0.9"/>
<line x1="176.91" y1="366.20" x2="181.51" y2="366.20" stroke="#000" stroke-width="0.9"/>
<line x1="176.91" y1="368.60" x2="181.51" y2="368.60" stroke="#000" stroke-width="0.9"/>
<line x1="187.95" y1="366.40" x2="187.95" y2="368.80" stroke="#000" stroke-width="0.9"/>
<line x1="185.65" y1="366.40" x2="190.25" y2="366.40" stroke="#000" stroke-width="0.9"/>
<line x1="185.65" y1="368.80" x2="190.25" y2="368.80" stroke="#000" stroke-width="0.9"/>
<line x1="196.69" y1="366.60" x2="196.69" y2="369.00" stroke="#000" stroke-width="0.9"/>
<line x1="194.38" y1="366.60" x2="198.99" y2="366.60" stroke="#000" stroke-width="0.9"/>
<line x1="194.38" y1="369.00" x2="198.99" y2="369.00" stroke="#000" stroke-width="0.9"/>
<line x1="205.42" y1="366.80" x2="205.42" y2="369.20" stroke="#000" stroke-width="0.9"/>
<line x1="203.12" y1="366.80" x2="207.72" y2="366.80" stroke="#000" stroke-width="0.9"/>
<line x1="203.12" y1="369.20" x2="207.72" y2="369.20" stroke="#000" stroke-width="0.9"/>
<line x1="214.15" y1="367.00" x2="214.15" y2="369.40" stroke="#000" stroke-width="0.9"/>
<line x1="211.85" y1="367.00" x2="216.45" y2="367.00" stroke="#000" stroke-width="0.9"/>
<line x1="211.85" y1="369.40" x2="216.45" y2="369.40" stroke="#000" stroke-width="0.9"/>
<line x1="222.89" y1="367.20" x2="222.89" y2="369.60" stroke="#000" stroke-width="0.9"/>
<line x1="220.59" y1="367.20" x2="225.19" y2="367.20" stroke="#000" stroke-width="0.9"/>
<line x1="220.59" y1="369.60" x2="225.19" y2="369.60" stroke="#000" stroke-width="0.9"/>
<line x1="231.62" y1="367.30" x2="231.62" y2="369.70" stroke="#000" stroke-width="0.9"/>
<line x1="229.32" y1="367.30" x2="233.92" y2="367.30" stroke="#000" stroke-width="0.9"/>
<line x1="229.32" y1="369.70" x2="233.92" y2="369.70" stroke="#000" stroke-width="0.9"/>
<circle cx="101.91" cy="344.70" r="2.30" fill="#000"/>
<circle cx="109.33" cy="354.80" r="2.30" fill="#000"/>
<circle cx="118.07" cy="360.30" r="2.30" fill="#000"/>
<circle cx="126.80" cy="363.00" r="2.30" fill="#000"/>
<circle cx="135.54" cy="364.70" r="2.30" fill="#000"/>
<circle cx="144.27" cy="365.50" r="2.30" fill="#000"/>
<circle cx="153.01" cy="366.70" r="2.30" fill="#000"/>
<circle cx="161.75" cy="366.70" r="2.30" fill="#000"/>
<circle cx="170.48" cy="367.20" r="2.30" fill="#000"/>
<circle cx="179.21" cy="367.40" r="2.30" fill="#000"/>
<circle cx="187.95" cy="367.60" r="2.30" fill="#000"/>
<circle cx="196.69" cy="367.80" r="2.30" fill="#000"/>
<circle cx="205.42" cy="368.00" r="2.30" fill="#000"/>
<circle cx="214.15" cy="368.20" r="2.30" fill="#000"/>
<circle cx="222.89" cy="368.40" r="2.30" fill="#000"/>
<circle cx="231.62" cy="368.50" r="2.30" fill="#000"/>
<polyline points="101.91,323.20 109.33,340.50 118.07,348.60 126.80,351.50 135.54,353.70 144.27,354.80 153.01,355.50 161.75,356.00 170.48,356.30 179.21,356.60 187.95,356.80 196.69,356.90 205.42,356.90 214.15,356.90 222.89,356.90 231.62,356.90" fill="none" stroke="#000" stroke-width="0.9"/>
<line x1="101.91" y1="318.00" x2="101.91" y2="328.40" stroke="#000" stroke-width="0.9"/>
<line x1="99.61" y1="318.00" x2="104.21" y2="318.00" stroke="#000" stroke-width="0.9"/>
<line x1="99.61" y1="328.40" x2="104.21" y2="328.40" stroke="#000" stroke-width="0.9"/>
<line x1="109.33" y1="337.00" x2="109.33" y2="344.00" stroke="#000" stroke-width="0.9"/>
<line x1="107.03" y1="337.00" x2="111.63" y2="337.00" stroke="#000" stroke-width="0.9"/>
<line x1="107.03" y1="344.00" x2="111.63" y2="344.00" stroke="#000" stroke-width="0.9"/>
<line x1="118.07" y1="345.90" x2="118.07" y2="351.30" stroke="#000" stroke-width="0.9"/>
<line x1="115.77" y1="345.90" x2="120.37" y2="345.90" stroke="#000" stroke-width="0.9"/>
<line x1="115.77" y1="351.30" x2="120.37" y2="351.30" stroke="#000" stroke-width="0.9"/>
<line x1="126.80" y1="348.80" x2="126.80" y2="354.20" stroke="#000" stroke-width="0.9"/>
<line x1="124.50" y1="348.80" x2="129.10" y2="348.80" stroke="#000" stroke-width="0.9"/>
<line x1="124.50" y1="354.20" x2="129.10" y2="354.20" stroke="#000" stroke-width="0.9"/>
<line x1="135.54" y1="351.00" x2="135.54" y2="356.40" stroke="#000" stroke-width="0.9"/>
<line x1="133.24" y1="351.00" x2="137.84" y2="351.00" stroke="#000" stroke-width="0.9"/>
<line x1="133.24" y1="356.40" x2="137.84" y2="356.40" stroke="#000" stroke-width="0.9"/>
<line x1="144.27" y1="352.10" x2="144.27" y2="357.50" stroke="#000" stroke-width="0.9"/>
<line x1="141.97" y1="352.10" x2="146.57" y2="352.10" stroke="#000" stroke-width="0.9"/>
<line x1="141.97" y1="357.50" x2="146.57" y2="357.50" stroke="#000" stroke-width="0.9"/>
<line x1="153.01" y1="352.80" x2="153.01" y2="358.20" stroke="#000" stroke-width="0.9"/>
<line x1="150.71" y1="352.80" x2="155.31" y2="352.80" stroke="#000" stroke-width="0.9"/>
<line x1="150.71" y1="358.20" x2="155.31" y2="358.20" stroke="#000" stroke-width="0.9"/>
<line x1="161.75" y1="353.30" x2="161.75" y2="358.70" stroke="#000" stroke-width="0.9"/>
<line x1="159.44" y1="353.30" x2="164.05" y2="353.30" stroke="#000" stroke-width="0.9"/>
<line x1="159.44" y1="358.70" x2="164.05" y2="358.70" stroke="#000" stroke-width="0.9"/>
<line x1="170.48" y1="353.60" x2="170.48" y2="359.00" stroke="#000" stroke-width="0.9"/>
<line x1="168.18" y1="353.60" x2="172.78" y2="353.60" stroke="#000" stroke-width="0.9"/>
<line x1="168.18" y1="359.00" x2="172.78" y2="359.00" stroke="#000" stroke-width="0.9"/>
<line x1="179.21" y1="353.90" x2="179.21" y2="359.30" stroke="#000" stroke-width="0.9"/>
<line x1="176.91" y1="353.90" x2="181.51" y2="353.90" stroke="#000" stroke-width="0.9"/>
<line x1="176.91" y1="359.30" x2="181.51" y2="359.30" stroke="#000" stroke-width="0.9"/>
<line x1="187.95" y1="354.10" x2="187.95" y2="359.50" stroke="#000" stroke-width="0.9"/>
<line x1="185.65" y1="354.10" x2="190.25" y2="354.10" stroke="#000" stroke-width="0.9"/>
<line x1="185.65" y1="359.50" x2="190.25" y2="359.50" stroke="#000" stroke-width="0.9"/>
<line x1="196.69" y1="354.20" x2="196.69" y2="359.60" stroke="#000" stroke-width="0.9"/>
<line x1="194.38" y1="354.20" x2="198.99" y2="354.20" stroke="#000" stroke-width="0.9"/>
<line x1="194.38" y1="359.60" x2="198.99" y2="359.60" stroke="#000" stroke-width="0.9"/>
<line x1="205.42" y1="354.20" x2="205.42" y2="359.60" stroke="#000" stroke-width="0.9"/>
<line x1="203.12" y1="354.20" x2="207.72" y2="354.20" stroke="#000" stroke-width="0.9"/>
<line x1="203.12" y1="359.60" x2="207.72" y2="359.60" stroke="#000" stroke-width="0.9"/>
<line x1="214.15" y1="354.20" x2="214.15" y2="359.60" stroke="#000" stroke-width="0.9"/>
<line x1="211.85" y1="354.20" x2="216.45" y2="354.20" stroke="#000" stroke-width="0.9"/>
<line x1="211.85" y1="359.60" x2="216.45" y2="359.60" stroke="#000" stroke-width="0.9"/>
<line x1="222.89" y1="354.20" x2="222.89" y2="359.60" stroke="#000" stroke-width="0.9"/>
<line x1="220.59" y1="354.20" x2="225.19" y2="354.20" stroke="#000" stroke-width="0.9"/>
<line x1="220.59" y1="359.60" x2="225.19" y2="359.60" stroke="#000" stroke-width="0.9"/>
<line x1="231.62" y1="354.20" x2="231.62" y2="359.60" stroke="#000" stroke-width="0.9"/>
<line x1="229.32" y1="354.20" x2="233.92" y2="354.20" stroke="#000" stroke-width="0.9"/>
<line x1="229.32" y1="359.60" x2="233.92" y2="359.60" stroke="#000" stroke-width="0.9"/>
<circle cx="101.91" cy="323.20" r="1.80" fill="#fff" stroke="#000" stroke-width="0.9"/>
<circle cx="109.33" cy="340.50" r="1.80" fill="#fff" stroke="#000" stroke-width="0.9"/>
<circle cx="118.07" cy="348.60" r="1.80" fill="#fff" stroke="#000" stroke-width="0.9"/>
<circle cx="126.80" cy="351.50" r="1.80" fill="#fff" stroke="#000" stroke-width="0.9"/>
<circle cx="135.54" cy="353.70" r="1.80" fill="#fff" stroke="#000" stroke-width="0.9"/>
<circle cx="144.27" cy="354.80" r="1.80" fill="#fff" stroke="#000" stroke-width="0.9"/>
<circle cx="153.01" cy="355.50" r="1.80" fill="#fff" stroke="#000" stroke-width="0.9"/>
<circle cx="161.75" cy="356.00" r="1.80" fill="#fff" stroke="#000" stroke-width="0.9"/>
<circle cx="170.48" cy="356.30" r="1.80" fill="#fff" stroke="#000" stroke-width="0.9"/>
<circle cx="179.21" cy="356.60" r="1.80" fill="#fff" stroke="#000" stroke-width="0.9"/>
<circle cx="187.95" cy="356.80" r="1.80" fill="#fff" stroke="#000" stroke-width="0.9"/>
<circle cx="196.69" cy="356.90" r="1.80" fill="#fff" stroke="#000" stroke-width="0.9"/>
<circle cx="205.42" cy="356.90" r="1.80" fill="#fff" stroke="#000" stroke-width="0.9"/>
<circle cx="214.15" cy="356.90" r="1.80" fill="#fff" stroke="#000" stroke-width="0.9"/>
<circle cx="222.89" cy="356.90" r="1.80" fill="#fff" stroke="#000" stroke-width="0.9"/>
<circle cx="231.62" cy="356.90" r="1.80" fill="#fff" stroke="#000" stroke-width="0.9"/>
<text transform="translate(111.40 324.06)" text-anchor="middle" font-size="9.6" class="st">*</text>
<text transform="translate(119.50 333.86)" text-anchor="middle" font-size="9.6" class="st">*</text>
<text transform="translate(127.50 340.06)" text-anchor="middle" font-size="9.6" class="st">*</text>
<text transform="translate(135.10 343.96)" text-anchor="middle" font-size="9.6" class="st">*</text>
<text transform="translate(144.10 347.66)" text-anchor="middle" font-size="9.6" class="st">*</text>
<text transform="translate(153.00 349.06)" text-anchor="middle" font-size="9.6" class="st">*</text>
<text transform="translate(161.30 349.06)" text-anchor="middle" font-size="9.6" class="st">*</text>
<text transform="translate(169.80 349.06)" text-anchor="middle" font-size="9.6" class="st">*</text>
<text transform="translate(180.56 349.06)" text-anchor="middle" font-size="9.6" class="st">*</text>
<text transform="translate(190.37 349.06)" text-anchor="middle" font-size="9.6" class="st">*</text>
<text transform="translate(199.33 349.06)" text-anchor="middle" font-size="9.6" class="st">*</text>
<text transform="translate(207.28 349.06)" text-anchor="middle" font-size="9.6" class="st">*</text>
<text transform="translate(215.74 349.06)" text-anchor="middle" font-size="9.6" class="st">*</text>
<text transform="translate(223.86 350.16)" text-anchor="middle" font-size="9.6" class="st">*</text>
<text transform="translate(232.65 350.16)" text-anchor="middle" font-size="9.6" class="st">*</text>
<line x1="284.50" y1="33.00" x2="284.50" y2="143.00" stroke="#000" stroke-width="1"/>
<line x1="284.00" y1="142.50" x2="441.00" y2="142.50" stroke="#000" stroke-width="1"/>
<line x1="282.00" y1="33.50" x2="284.50" y2="33.50" stroke="#000" stroke-width="1"/>
<text transform="translate(279.10 36.00) scale(0.88 1)" text-anchor="end" font-size="7.9">100</text>
<line x1="282.00" y1="55.50" x2="284.50" y2="55.50" stroke="#000" stroke-width="1"/>
<text transform="translate(279.10 58.00) scale(0.88 1)" text-anchor="end" font-size="7.9">80</text>
<line x1="282.00" y1="76.50" x2="284.50" y2="76.50" stroke="#000" stroke-width="1"/>
<text transform="translate(279.10 79.00) scale(0.88 1)" text-anchor="end" font-size="7.9">60</text>
<line x1="282.00" y1="98.50" x2="284.50" y2="98.50" stroke="#000" stroke-width="1"/>
<text transform="translate(279.10 101.00) scale(0.88 1)" text-anchor="end" font-size="7.9">40</text>
<line x1="282.00" y1="120.50" x2="284.50" y2="120.50" stroke="#000" stroke-width="1"/>
<text transform="translate(279.10 123.00) scale(0.88 1)" text-anchor="end" font-size="7.9">20</text>
<line x1="282.00" y1="142.50" x2="284.50" y2="142.50" stroke="#000" stroke-width="1"/>
<line x1="300.50" y1="142.50" x2="300.50" y2="145.60" stroke="#000" stroke-width="1"/>
<line x1="318.50" y1="142.50" x2="318.50" y2="145.60" stroke="#000" stroke-width="1"/>
<line x1="335.50" y1="142.50" x2="335.50" y2="145.60" stroke="#000" stroke-width="1"/>
<line x1="353.50" y1="142.50" x2="353.50" y2="145.60" stroke="#000" stroke-width="1"/>
<line x1="370.50" y1="142.50" x2="370.50" y2="145.60" stroke="#000" stroke-width="1"/>
<line x1="388.50" y1="142.50" x2="388.50" y2="145.60" stroke="#000" stroke-width="1"/>
<line x1="405.50" y1="142.50" x2="405.50" y2="145.60" stroke="#000" stroke-width="1"/>
<line x1="423.50" y1="142.50" x2="423.50" y2="145.60" stroke="#000" stroke-width="1"/>
<line x1="440.50" y1="142.50" x2="440.50" y2="145.60" stroke="#000" stroke-width="1"/>
<text transform="translate(265.40 87.20) rotate(-90) scale(0.94 1)" text-anchor="middle" font-size="7.2">Wall stress, kPa</text>
<text transform="translate(259.90 144.80)" text-anchor="start" font-size="8.0" font-weight="bold" class="b">d</text>
<polyline points="301.80,141.80 309.40,138.40 317.50,133.40 326.60,127.80 335.30,121.00 344.40,115.30 353.00,109.30 361.50,102.90 370.50,97.00 379.40,90.60 387.80,84.20 396.60,78.30 405.60,71.50 414.40,65.60 423.00,59.30 431.80,52.90" fill="none" stroke="#000" stroke-width="0.9"/>
<line x1="414.40" y1="64.40" x2="414.40" y2="66.80" stroke="#000" stroke-width="0.9"/>
<line x1="412.10" y1="64.40" x2="416.70" y2="64.40" stroke="#000" stroke-width="0.9"/>
<line x1="412.10" y1="66.80" x2="416.70" y2="66.80" stroke="#000" stroke-width="0.9"/>
<line x1="423.00" y1="57.30" x2="423.00" y2="61.30" stroke="#000" stroke-width="0.9"/>
<line x1="420.70" y1="57.30" x2="425.30" y2="57.30" stroke="#000" stroke-width="0.9"/>
<line x1="420.70" y1="61.30" x2="425.30" y2="61.30" stroke="#000" stroke-width="0.9"/>
<line x1="431.80" y1="50.30" x2="431.80" y2="55.50" stroke="#000" stroke-width="0.9"/>
<line x1="429.50" y1="50.30" x2="434.10" y2="50.30" stroke="#000" stroke-width="0.9"/>
<line x1="429.50" y1="55.50" x2="434.10" y2="55.50" stroke="#000" stroke-width="0.9"/>
<circle cx="301.80" cy="141.80" r="2.40" fill="#000"/>
<circle cx="309.40" cy="138.40" r="2.40" fill="#000"/>
<circle cx="317.50" cy="133.40" r="2.40" fill="#000"/>
<circle cx="326.60" cy="127.80" r="2.40" fill="#000"/>
<circle cx="335.30" cy="121.00" r="2.40" fill="#000"/>
<circle cx="344.40" cy="115.30" r="2.40" fill="#000"/>
<circle cx="353.00" cy="109.30" r="2.40" fill="#000"/>
<circle cx="361.50" cy="102.90" r="2.40" fill="#000"/>
<circle cx="370.50" cy="97.00" r="2.40" fill="#000"/>
<circle cx="379.40" cy="90.60" r="2.40" fill="#000"/>
<circle cx="387.80" cy="84.20" r="2.40" fill="#000"/>
<circle cx="396.60" cy="78.30" r="2.40" fill="#000"/>
<circle cx="405.60" cy="71.50" r="2.40" fill="#000"/>
<circle cx="414.40" cy="65.60" r="2.40" fill="#000"/>
<circle cx="423.00" cy="59.30" r="2.40" fill="#000"/>
<circle cx="431.80" cy="52.90" r="2.40" fill="#000"/>
<polyline points="301.80,142.30 309.40,139.30 317.50,135.10 326.60,130.50 335.30,125.80 344.40,121.00 353.00,116.10 361.50,111.00 370.50,106.30 379.40,101.60 387.80,97.40 396.60,92.30 405.60,87.60 414.40,82.50 423.00,77.90 431.80,73.20" fill="none" stroke="#000" stroke-width="0.9"/>
<line x1="423.00" y1="76.70" x2="423.00" y2="79.10" stroke="#000" stroke-width="0.9"/>
<line x1="420.70" y1="76.70" x2="425.30" y2="76.70" stroke="#000" stroke-width="0.9"/>
<line x1="420.70" y1="79.10" x2="425.30" y2="79.10" stroke="#000" stroke-width="0.9"/>
<line x1="431.80" y1="71.60" x2="431.80" y2="74.80" stroke="#000" stroke-width="0.9"/>
<line x1="429.50" y1="71.60" x2="434.10" y2="71.60" stroke="#000" stroke-width="0.9"/>
<line x1="429.50" y1="74.80" x2="434.10" y2="74.80" stroke="#000" stroke-width="0.9"/>
<circle cx="301.80" cy="142.30" r="1.85" fill="#fff" stroke="#000" stroke-width="0.9"/>
<circle cx="309.40" cy="139.30" r="1.85" fill="#fff" stroke="#000" stroke-width="0.9"/>
<circle cx="317.50" cy="135.10" r="1.85" fill="#fff" stroke="#000" stroke-width="0.9"/>
<circle cx="326.60" cy="130.50" r="1.85" fill="#fff" stroke="#000" stroke-width="0.9"/>
<circle cx="335.30" cy="125.80" r="1.85" fill="#fff" stroke="#000" stroke-width="0.9"/>
<circle cx="344.40" cy="121.00" r="1.85" fill="#fff" stroke="#000" stroke-width="0.9"/>
<circle cx="353.00" cy="116.10" r="1.85" fill="#fff" stroke="#000" stroke-width="0.9"/>
<circle cx="361.50" cy="111.00" r="1.85" fill="#fff" stroke="#000" stroke-width="0.9"/>
<circle cx="370.50" cy="106.30" r="1.85" fill="#fff" stroke="#000" stroke-width="0.9"/>
<circle cx="379.40" cy="101.60" r="1.85" fill="#fff" stroke="#000" stroke-width="0.9"/>
<circle cx="387.80" cy="97.40" r="1.85" fill="#fff" stroke="#000" stroke-width="0.9"/>
<circle cx="396.60" cy="92.30" r="1.85" fill="#fff" stroke="#000" stroke-width="0.9"/>
<circle cx="405.60" cy="87.60" r="1.85" fill="#fff" stroke="#000" stroke-width="0.9"/>
<circle cx="414.40" cy="82.50" r="1.85" fill="#fff" stroke="#000" stroke-width="0.9"/>
<circle cx="423.00" cy="77.90" r="1.85" fill="#fff" stroke="#000" stroke-width="0.9"/>
<circle cx="431.80" cy="73.20" r="1.85" fill="#fff" stroke="#000" stroke-width="0.9"/>
<text transform="translate(300.60 135.86)" text-anchor="middle" font-size="9.6" class="st">*</text>
<text transform="translate(310.60 130.16)" text-anchor="middle" font-size="9.6" class="st">*</text>
<text transform="translate(350.00 103.86)" text-anchor="middle" font-size="9.6" class="st">*</text>
<text transform="translate(361.50 94.96)" text-anchor="middle" font-size="9.6" class="st">*</text>
<text transform="translate(370.20 88.96)" text-anchor="middle" font-size="9.6" class="st">*</text>
<text transform="translate(378.00 80.76)" text-anchor="middle" font-size="9.6" class="st">*</text>
<text transform="translate(385.80 75.86)" text-anchor="middle" font-size="9.6" class="st">*</text>
<text transform="translate(394.60 69.16)" text-anchor="middle" font-size="9.6" class="st">*</text>
<text transform="translate(403.40 61.86)" text-anchor="middle" font-size="9.6" class="st">*</text>
<text transform="translate(413.60 56.26)" text-anchor="middle" font-size="9.6" class="st">*</text>
<text transform="translate(421.70 51.16)" text-anchor="middle" font-size="9.6" class="st">*</text>
<text transform="translate(430.60 46.16)" text-anchor="middle" font-size="9.6" class="st">*</text>
<line x1="284.50" y1="167.00" x2="284.50" y2="274.00" stroke="#000" stroke-width="1"/>
<line x1="284.00" y1="273.50" x2="436.00" y2="273.50" stroke="#000" stroke-width="1"/>
<line x1="282.00" y1="167.50" x2="284.50" y2="167.50" stroke="#000" stroke-width="1"/>
<text transform="translate(279.10 170.00) scale(0.88 1)" text-anchor="end" font-size="7.9">1.0</text>
<line x1="282.00" y1="189.50" x2="284.50" y2="189.50" stroke="#000" stroke-width="1"/>
<text transform="translate(279.10 192.00) scale(0.88 1)" text-anchor="end" font-size="7.9">0.8</text>
<line x1="282.00" y1="210.50" x2="284.50" y2="210.50" stroke="#000" stroke-width="1"/>
<text transform="translate(279.10 213.00) scale(0.88 1)" text-anchor="end" font-size="7.9">0.6</text>
<line x1="282.00" y1="231.50" x2="284.50" y2="231.50" stroke="#000" stroke-width="1"/>
<text transform="translate(279.10 234.00) scale(0.88 1)" text-anchor="end" font-size="7.9">0.4</text>
<line x1="282.00" y1="252.50" x2="284.50" y2="252.50" stroke="#000" stroke-width="1"/>
<text transform="translate(279.10 255.00) scale(0.88 1)" text-anchor="end" font-size="7.9">0.2</text>
<line x1="282.00" y1="273.50" x2="284.50" y2="273.50" stroke="#000" stroke-width="1"/>
<text transform="translate(279.10 276.00) scale(0.88 1)" text-anchor="end" font-size="7.9">0</text>
<line x1="300.50" y1="273.50" x2="300.50" y2="276.00" stroke="#000" stroke-width="1"/>
<line x1="318.50" y1="273.50" x2="318.50" y2="276.00" stroke="#000" stroke-width="1"/>
<line x1="336.50" y1="273.50" x2="336.50" y2="276.00" stroke="#000" stroke-width="1"/>
<line x1="354.50" y1="273.50" x2="354.50" y2="276.00" stroke="#000" stroke-width="1"/>
<line x1="372.50" y1="273.50" x2="372.50" y2="276.00" stroke="#000" stroke-width="1"/>
<line x1="390.50" y1="273.50" x2="390.50" y2="276.00" stroke="#000" stroke-width="1"/>
<line x1="408.50" y1="273.50" x2="408.50" y2="276.00" stroke="#000" stroke-width="1"/>
<line x1="426.50" y1="273.50" x2="426.50" y2="276.00" stroke="#000" stroke-width="1"/>
<text transform="translate(263.80 217.80) rotate(-90)" text-anchor="middle" font-size="7.2">Distensibility, kPa<tspan font-size="5" dy="-2.2">–1</tspan></text>
<text transform="translate(259.90 275.80)" text-anchor="start" font-size="8.0" font-weight="bold" class="b">e</text>
<polyline points="306.20,221.40 314.40,255.70 323.10,264.20 332.30,267.90 341.50,270.30 354.60,271.60 376.80,272.50 412.70,272.70" fill="none" stroke="#000" stroke-width="0.9"/>
<line x1="306.20" y1="214.80" x2="306.20" y2="228.00" stroke="#000" stroke-width="0.9"/>
<line x1="303.90" y1="214.80" x2="308.50" y2="214.80" stroke="#000" stroke-width="0.9"/>
<line x1="303.90" y1="228.00" x2="308.50" y2="228.00" stroke="#000" stroke-width="0.9"/>
<line x1="314.40" y1="254.20" x2="314.40" y2="257.20" stroke="#000" stroke-width="0.9"/>
<line x1="312.10" y1="254.20" x2="316.70" y2="254.20" stroke="#000" stroke-width="0.9"/>
<line x1="312.10" y1="257.20" x2="316.70" y2="257.20" stroke="#000" stroke-width="0.9"/>
<circle cx="306.20" cy="221.40" r="2.30" fill="#000"/>
<circle cx="314.40" cy="255.70" r="2.30" fill="#000"/>
<circle cx="323.10" cy="264.20" r="2.30" fill="#000"/>
<circle cx="332.30" cy="267.90" r="2.30" fill="#000"/>
<circle cx="341.50" cy="270.30" r="2.30" fill="#000"/>
<circle cx="354.60" cy="271.60" r="2.30" fill="#000"/>
<circle cx="376.80" cy="272.50" r="2.30" fill="#000"/>
<circle cx="412.70" cy="272.70" r="2.30" fill="#000"/>
<polyline points="306.20,189.40 314.40,248.30 323.10,263.90 332.30,267.60 341.50,270.10 354.60,271.40 376.80,272.30 412.70,272.30" fill="none" stroke="#000" stroke-width="0.9"/>
<line x1="306.20" y1="177.60" x2="306.20" y2="201.20" stroke="#000" stroke-width="0.9"/>
<line x1="303.90" y1="177.60" x2="308.50" y2="177.60" stroke="#000" stroke-width="0.9"/>
<line x1="303.90" y1="201.20" x2="308.50" y2="201.20" stroke="#000" stroke-width="0.9"/>
<line x1="314.40" y1="245.80" x2="314.40" y2="250.80" stroke="#000" stroke-width="0.9"/>
<line x1="312.10" y1="245.80" x2="316.70" y2="245.80" stroke="#000" stroke-width="0.9"/>
<line x1="312.10" y1="250.80" x2="316.70" y2="250.80" stroke="#000" stroke-width="0.9"/>
<line x1="323.10" y1="262.70" x2="323.10" y2="265.10" stroke="#000" stroke-width="0.9"/>
<line x1="320.80" y1="262.70" x2="325.40" y2="262.70" stroke="#000" stroke-width="0.9"/>
<line x1="320.80" y1="265.10" x2="325.40" y2="265.10" stroke="#000" stroke-width="0.9"/>
<circle cx="306.20" cy="189.40" r="1.85" fill="#fff" stroke="#000" stroke-width="0.9"/>
<circle cx="314.40" cy="248.30" r="1.85" fill="#fff" stroke="#000" stroke-width="0.9"/>
<circle cx="323.10" cy="263.90" r="1.85" fill="#fff" stroke="#000" stroke-width="0.9"/>
<circle cx="332.30" cy="267.60" r="1.85" fill="#fff" stroke="#000" stroke-width="0.9"/>
<circle cx="341.50" cy="270.10" r="1.85" fill="#fff" stroke="#000" stroke-width="0.9"/>
<circle cx="354.60" cy="271.40" r="1.85" fill="#fff" stroke="#000" stroke-width="0.9"/>
<circle cx="376.80" cy="272.30" r="1.85" fill="#fff" stroke="#000" stroke-width="0.9"/>
<circle cx="412.70" cy="272.30" r="1.85" fill="#fff" stroke="#000" stroke-width="0.9"/>
<text transform="translate(318.10 223.96)" text-anchor="middle" font-size="9.6" class="st">*</text>
<line x1="284.50" y1="293.00" x2="284.50" y2="403.00" stroke="#000" stroke-width="1"/>
<line x1="284.00" y1="402.50" x2="440.00" y2="402.50" stroke="#000" stroke-width="1"/>
<line x1="282.00" y1="293.50" x2="284.50" y2="293.50" stroke="#000" stroke-width="1"/>
<text transform="translate(279.10 296.00) scale(0.88 1)" text-anchor="end" font-size="7.9">7</text>
<line x1="282.00" y1="320.50" x2="284.50" y2="320.50" stroke="#000" stroke-width="1"/>
<text transform="translate(279.10 323.00) scale(0.88 1)" text-anchor="end" font-size="7.9">6</text>
<line x1="282.00" y1="348.50" x2="284.50" y2="348.50" stroke="#000" stroke-width="1"/>
<text transform="translate(279.10 351.00) scale(0.88 1)" text-anchor="end" font-size="7.9">5</text>
<line x1="282.00" y1="375.50" x2="284.50" y2="375.50" stroke="#000" stroke-width="1"/>
<text transform="translate(279.10 378.00) scale(0.88 1)" text-anchor="end" font-size="7.9">4</text>
<line x1="282.00" y1="402.50" x2="284.50" y2="402.50" stroke="#000" stroke-width="1"/>
<text transform="translate(279.10 405.00) scale(0.88 1)" text-anchor="end" font-size="7.9">3</text>
<line x1="301.50" y1="402.50" x2="301.50" y2="404.80" stroke="#000" stroke-width="1"/>
<text transform="translate(301.50 414.30) scale(0.88 1)" text-anchor="middle" font-size="7.9">0</text>
<line x1="319.50" y1="402.50" x2="319.50" y2="404.80" stroke="#000" stroke-width="1"/>
<text transform="translate(319.93 414.30) scale(0.88 1)" text-anchor="middle" font-size="7.9">20</text>
<line x1="338.50" y1="402.50" x2="338.50" y2="404.80" stroke="#000" stroke-width="1"/>
<text transform="translate(338.36 414.30) scale(0.88 1)" text-anchor="middle" font-size="7.9">40</text>
<line x1="356.50" y1="402.50" x2="356.50" y2="404.80" stroke="#000" stroke-width="1"/>
<text transform="translate(356.79 414.30) scale(0.88 1)" text-anchor="middle" font-size="7.9">60</text>
<line x1="375.50" y1="402.50" x2="375.50" y2="404.80" stroke="#000" stroke-width="1"/>
<text transform="translate(375.22 414.30) scale(0.88 1)" text-anchor="middle" font-size="7.9">80</text>
<line x1="393.50" y1="402.50" x2="393.50" y2="404.80" stroke="#000" stroke-width="1"/>
<text transform="translate(393.65 414.30) scale(0.88 1)" text-anchor="middle" font-size="7.9">100</text>
<line x1="412.50" y1="402.50" x2="412.50" y2="404.80" stroke="#000" stroke-width="1"/>
<text transform="translate(412.08 414.30) scale(0.88 1)" text-anchor="middle" font-size="7.9">120</text>
<line x1="430.50" y1="402.50" x2="430.50" y2="404.80" stroke="#000" stroke-width="1"/>
<text transform="translate(430.51 414.30) scale(0.88 1)" text-anchor="middle" font-size="7.9">140</text>
<text transform="translate(264.00 350.30) rotate(-90) scale(0.95 1)" text-anchor="middle" font-size="7.2">log E<tspan font-size="5" dy="1.5">inc</tspan><tspan dy="-1.5">, lgPa</tspan></text>
<text transform="translate(259.90 425.10)" text-anchor="start" font-size="8.0" font-weight="bold" class="b">f</text>
<text transform="translate(371.00 426.10)" text-anchor="middle" font-size="7.2">Intraluminal pressure, mm Hg</text>
<polyline points="306.90,368.10 315.10,355.70 324.20,345.70 333.80,338.00 343.00,332.70 356.80,325.30 379.80,315.80 416.30,309.30" fill="none" stroke="#000" stroke-width="0.9"/>
<circle cx="306.90" cy="368.10" r="2.70" fill="#000"/>
<circle cx="315.10" cy="355.70" r="2.70" fill="#000"/>
<circle cx="324.20" cy="345.70" r="2.70" fill="#000"/>
<circle cx="333.80" cy="338.00" r="2.70" fill="#000"/>
<circle cx="343.00" cy="332.70" r="2.70" fill="#000"/>
<circle cx="356.80" cy="325.30" r="2.70" fill="#000"/>
<circle cx="379.80" cy="315.80" r="2.70" fill="#000"/>
<circle cx="416.30" cy="309.30" r="2.70" fill="#000"/>
<polyline points="306.90,376.80 315.10,361.40 324.20,348.90 333.80,338.40 343.00,333.00 356.80,325.80 379.80,317.70 416.30,307.40" fill="none" stroke="#000" stroke-width="0.9"/>
<line x1="356.80" y1="325.80" x2="356.80" y2="330.00" stroke="#000" stroke-width="0.9"/>
<line x1="354.50" y1="325.80" x2="359.10" y2="325.80" stroke="#000" stroke-width="0.9"/>
<line x1="354.50" y1="330.00" x2="359.10" y2="330.00" stroke="#000" stroke-width="0.9"/>
<circle cx="306.90" cy="376.80" r="2.30" fill="#fff" stroke="#000" stroke-width="0.9"/>
<circle cx="315.10" cy="361.40" r="2.30" fill="#fff" stroke="#000" stroke-width="0.9"/>
<circle cx="324.20" cy="348.90" r="2.30" fill="#fff" stroke="#000" stroke-width="0.9"/>
<circle cx="333.80" cy="338.40" r="2.30" fill="#fff" stroke="#000" stroke-width="0.9"/>
<circle cx="343.00" cy="333.00" r="2.30" fill="#fff" stroke="#000" stroke-width="0.9"/>
<circle cx="356.80" cy="325.80" r="2.30" fill="#fff" stroke="#000" stroke-width="0.9"/>
<circle cx="379.80" cy="317.70" r="2.30" fill="#fff" stroke="#000" stroke-width="0.9"/>
<circle cx="416.30" cy="307.40" r="2.30" fill="#fff" stroke="#000" stroke-width="0.9"/>
<text transform="translate(303.60 356.96)" text-anchor="middle" font-size="9.6" class="st">*</text>
<text transform="translate(314.80 346.86)" text-anchor="middle" font-size="9.6" class="st">*</text>
<circle cx="330.9" cy="19.5" r="1.9" fill="#000"/>
<text transform="translate(340.00 22.10) scale(0.975 1)" text-anchor="start" font-size="7.2">Sedentary</text>
<circle cx="388.1" cy="19.5" r="1.8" fill="#fff" stroke="#000" stroke-width="0.9"/>
<text transform="translate(397.80 22.10) scale(0.91 1)" text-anchor="start" font-size="7.2">Exercised</text>
</svg>
</body></html>
